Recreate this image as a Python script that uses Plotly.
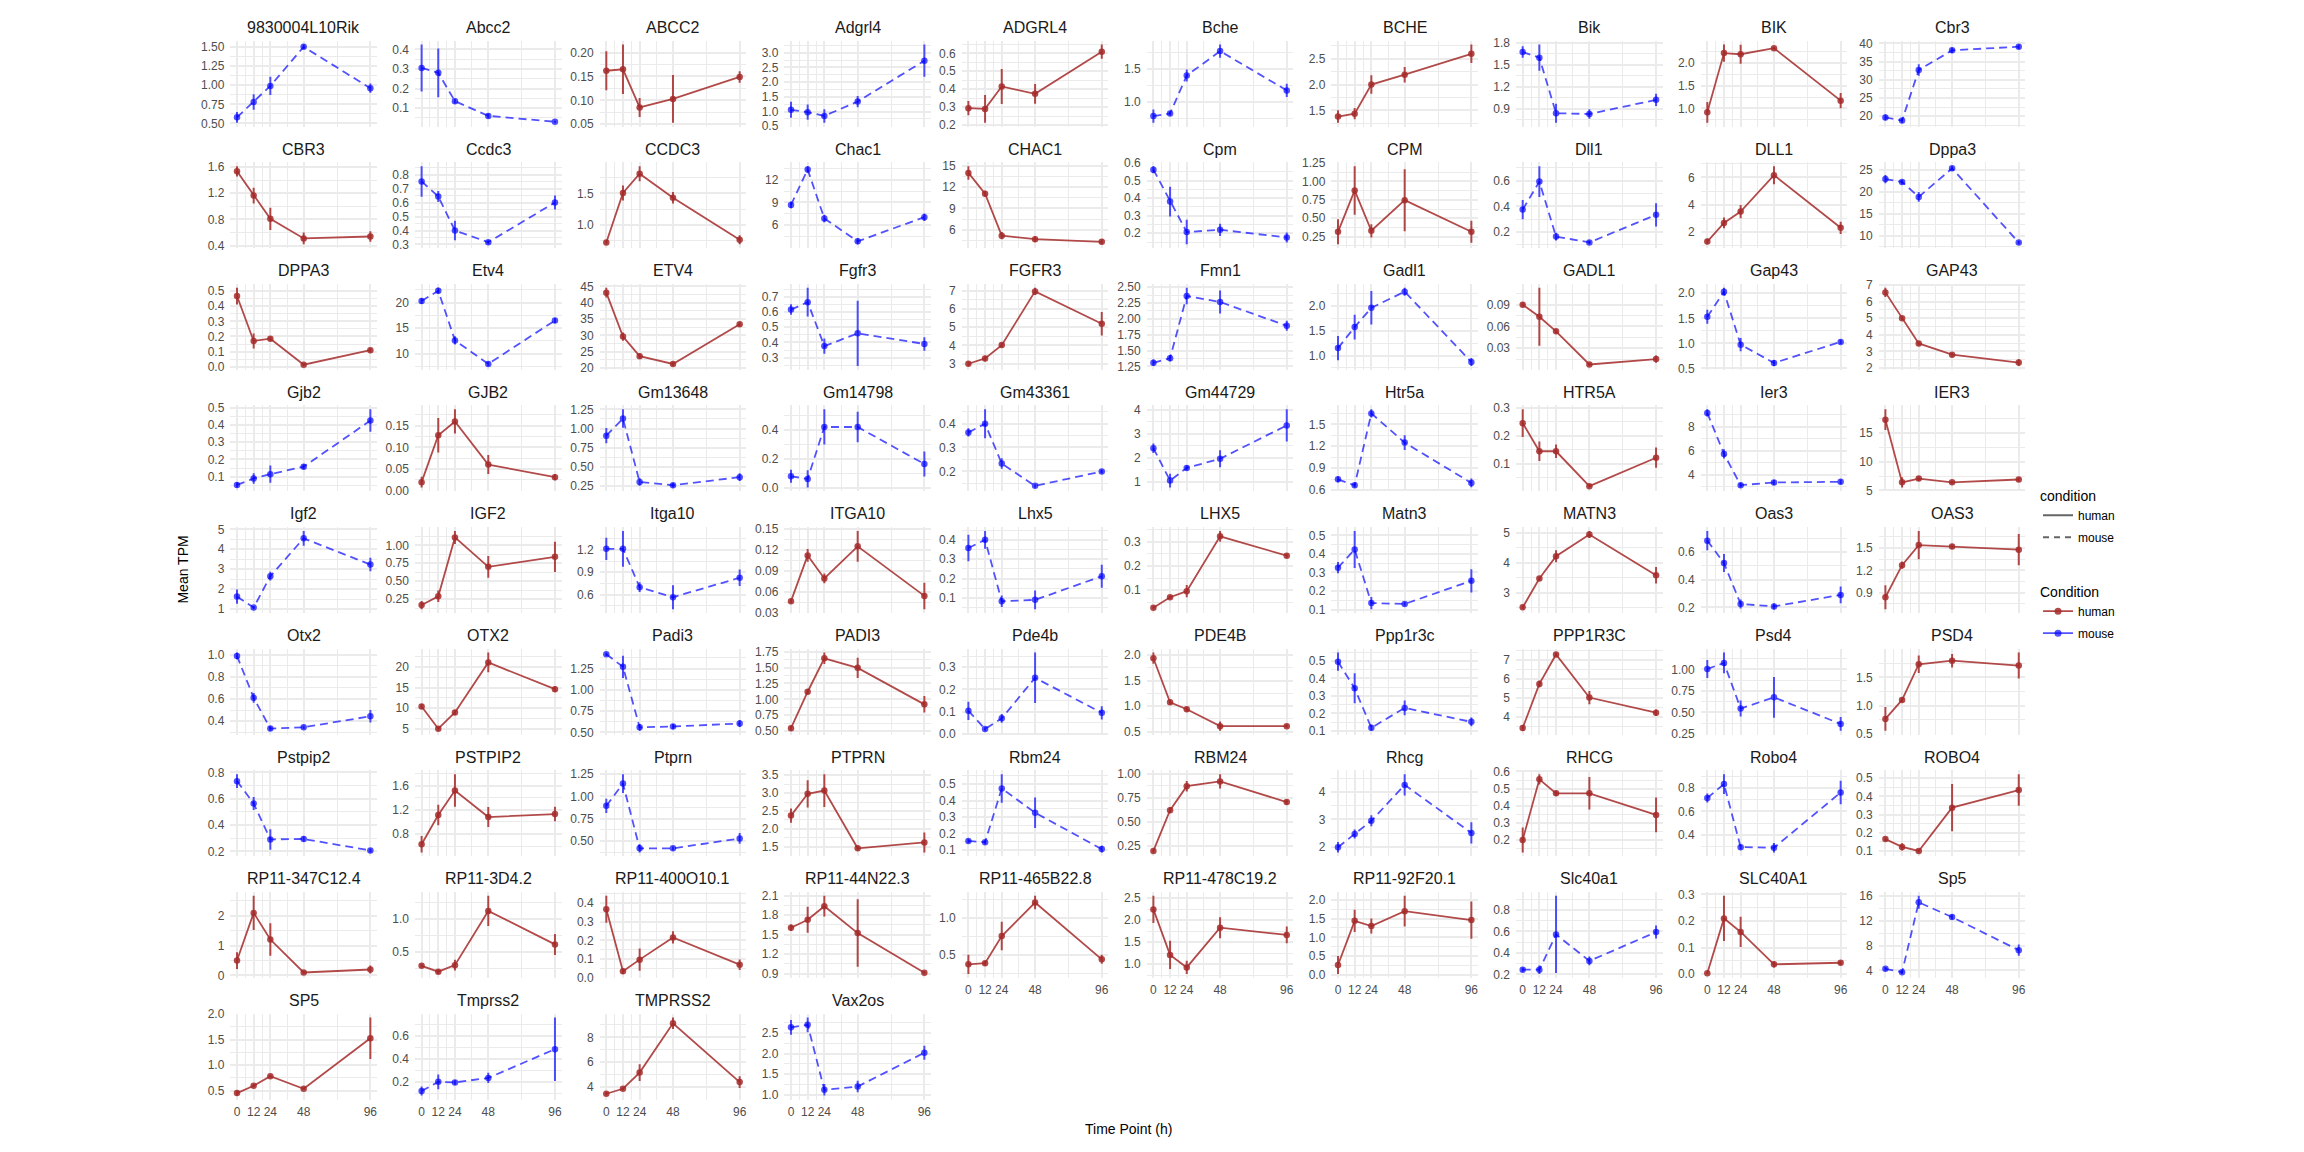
import plotly.graph_objects as go

TIMES = [0, 12, 24, 48, 96]
X_TICKS = [0, 12, 24, 48, 96]
X_MINOR = [6, 18, 36, 72]

GENES = ["9830004L10Rik", "Abcc2", "ABCC2", "Adgrl4", "ADGRL4", "Bche", "BCHE", "Bik", "BIK", "Cbr3",
         "CBR3", "Ccdc3", "CCDC3", "Chac1", "CHAC1", "Cpm", "CPM", "Dll1", "DLL1", "Dppa3",
         "DPPA3", "Etv4", "ETV4", "Fgfr3", "FGFR3", "Fmn1", "Gadl1", "GADL1", "Gap43", "GAP43",
         "Gjb2", "GJB2", "Gm13648", "Gm14798", "Gm43361", "Gm44729", "Htr5a", "HTR5A", "Ier3", "IER3",
         "Igf2", "IGF2", "Itga10", "ITGA10", "Lhx5", "LHX5", "Matn3", "MATN3", "Oas3", "OAS3",
         "Otx2", "OTX2", "Padi3", "PADI3", "Pde4b", "PDE4B", "Ppp1r3c", "PPP1R3C", "Psd4", "PSD4",
         "Pstpip2", "PSTPIP2", "Ptprn", "PTPRN", "Rbm24", "RBM24", "Rhcg", "RHCG", "Robo4", "ROBO4",
         "RP11-347C12.4", "RP11-3D4.2", "RP11-400O10.1", "RP11-44N22.3", "RP11-465B22.8",
         "RP11-478C19.2", "RP11-92F20.1", "Slc40a1", "SLC40A1", "Sp5",
         "SP5", "Tmprss2", "TMPRSS2", "Vax2os"]

SPECIES = ["mouse", "mouse", "human", "mouse", "human", "mouse", "human", "mouse", "human", "mouse",
           "human", "mouse", "human", "mouse", "human", "mouse", "human", "mouse", "human", "mouse",
           "human", "mouse", "human", "mouse", "human", "mouse", "mouse", "human", "mouse", "human",
           "mouse", "human", "mouse", "mouse", "mouse", "mouse", "mouse", "human", "mouse", "human",
           "mouse", "human", "mouse", "human", "mouse", "human", "mouse", "human", "mouse", "human",
           "mouse", "human", "mouse", "human", "mouse", "human", "mouse", "human", "mouse", "human",
           "mouse", "human", "mouse", "human", "mouse", "human", "mouse", "human", "mouse", "human",
           "human", "human", "human", "human", "human", "human", "human", "mouse", "human", "mouse",
           "human", "mouse", "human", "mouse"]

MEAN_TPM = [
    [0.58, 0.78, 0.99, 1.50, 0.96], [0.305, 0.28, 0.135, 0.06, 0.03], [0.162, 0.165, 0.085, 0.103, 0.149],
    [1.06, 0.98, 0.85, 1.34, 2.73], [0.294, 0.29, 0.415, 0.374, 0.609], [0.79, 0.83, 1.405, 1.775, 1.18],
    [1.38, 1.435, 2.0, 2.19, 2.595], [1.677, 1.60, 0.836, 0.826, 1.02], [0.913, 2.22, 2.195, 2.33, 1.17],
    [19.65, 18.8, 32.7, 38.1, 39.1],
    [1.535, 1.165, 0.81, 0.51, 0.54], [0.753, 0.645, 0.40, 0.316, 0.602], [0.723, 1.505, 1.81, 1.43, 0.766],
    [8.66, 13.4, 6.86, 3.8, 7.03], [13.97, 11.06, 5.19, 4.7, 4.33], [0.563, 0.381, 0.207, 0.22, 0.176],
    [0.316, 0.877, 0.33, 0.745, 0.316], [0.375, 0.592, 0.165, 0.12, 0.334], [1.30, 2.67, 3.5, 6.17, 2.31],
    [22.85, 22.2, 18.8, 25.3, 8.4],
    [0.467, 0.17, 0.185, 0.013, 0.109], [20.3, 22.3, 12.6, 8.0, 16.5], [43.1, 29.6, 23.6, 21.2, 33.4],
    [0.617, 0.666, 0.376, 0.46, 0.39], [3.0, 3.29, 4.02, 6.96, 5.19], [1.307, 1.38, 2.36, 2.265, 1.89],
    [1.15, 1.575, 1.965, 2.29, 0.87], [0.09, 0.0734, 0.0532, 0.0075, 0.015], [1.53, 2.03, 0.975, 0.61, 1.03],
    [6.56, 5.0, 3.48, 2.8, 2.32],
    [0.0525, 0.09, 0.115, 0.158, 0.425], [0.0194, 0.128, 0.16, 0.06, 0.031], [0.908, 1.13, 0.305, 0.263, 0.368],
    [0.079, 0.061, 0.42, 0.42, 0.164], [0.363, 0.399, 0.233, 0.14, 0.2], [2.39, 1.04, 1.57, 1.95, 3.34],
    [0.749, 0.667, 1.649, 1.25, 0.70], [0.245, 0.145, 0.145, 0.021, 0.122], [9.13, 5.72, 3.12, 3.34, 3.4],
    [17.3, 6.4, 7.06, 6.4, 6.9],
    [1.62, 1.07, 2.65, 4.55, 3.23], [0.168, 0.29, 1.11, 0.70, 0.84], [1.213, 1.213, 0.70, 0.565, 0.826],
    [0.0465, 0.112, 0.079, 0.125, 0.054], [0.358, 0.40, 0.083, 0.09, 0.212], [0.028, 0.071, 0.096, 0.322, 0.242],
    [0.326, 0.424, 0.135, 0.13, 0.255], [2.5, 3.47, 4.22, 4.95, 3.58], [0.682, 0.52, 0.224, 0.207, 0.29],
    [0.838, 1.27, 1.54, 1.52, 1.478],
    [0.99, 0.61, 0.332, 0.344, 0.443], [10.4, 5.0, 8.96, 21.1, 14.6], [1.417, 1.27, 0.56, 0.57, 0.605],
    [0.547, 1.12, 1.645, 1.495, 0.922], [0.103, 0.021, 0.069, 0.252, 0.094], [1.935, 1.077, 0.94, 0.61, 0.61],
    [0.496, 0.343, 0.117, 0.231, 0.151], [3.4, 5.72, 7.27, 5.0, 4.2], [1.004, 1.075, 0.545, 0.675, 0.366],
    [0.763, 1.10, 1.734, 1.797, 1.711],
    [0.734, 0.564, 0.291, 0.294, 0.207], [0.63, 1.113, 1.52, 1.08, 1.13], [0.894, 1.142, 0.42, 0.42, 0.53],
    [2.37, 2.98, 3.07, 1.455, 1.62], [0.154, 0.146, 0.474, 0.326, 0.104], [0.196, 0.62, 0.87, 0.92, 0.705],
    [1.99, 2.47, 2.95, 4.26, 2.51], [0.2, 0.554, 0.472, 0.472, 0.346], [0.715, 0.834, 0.293, 0.288, 0.762],
    [0.165, 0.122, 0.10, 0.338, 0.435],
    [0.5, 2.09, 1.2, 0.1, 0.2], [0.29, 0.2, 0.3, 1.125, 0.615], [0.367, 0.035, 0.097, 0.216, 0.07],
    [1.607, 1.73, 1.94, 1.525, 0.915], [0.375, 0.39, 0.755, 1.205, 0.442], [2.246, 1.21, 0.925, 1.83, 1.664],
    [0.26, 1.44, 1.3, 1.7, 1.46], [0.243, 0.243, 0.572, 0.325, 0.594], [0.0037, 0.21, 0.159, 0.037, 0.043],
    [4.26, 3.73, 14.95, 12.58, 7.26],
    [0.455, 0.597, 0.785, 0.538, 1.526], [0.12, 0.2, 0.195, 0.234, 0.485], [3.46, 3.86, 5.16, 9.13, 4.4],
    [2.64, 2.7, 1.12, 1.2, 2.02],
]

ERR_TPM = [
    [0.07, 0.10, 0.12, 0.03, 0.06], [0.12, 0.125, 0.012, 0.012, 0.005], [0.041, 0.052, 0.02, 0.05, 0.012],
    [0.27, 0.26, 0.23, 0.19, 0.55], [0.04, 0.077, 0.098, 0.055, 0.04], [0.1, 0.03, 0.09, 0.1, 0.1],
    [0.12, 0.11, 0.18, 0.15, 0.18], [0.08, 0.18, 0.13, 0.065, 0.085], [0.23, 0.19, 0.21, 0.03, 0.17],
    [0.8, 0.6, 1.6, 0.7, 0.6],
    [0.08, 0.12, 0.17, 0.09, 0.08], [0.11, 0.04, 0.07, 0.015, 0.05], [0.03, 0.12, 0.12, 0.09, 0.07],
    [0.45, 0.45, 0.5, 0.4, 0.5], [0.95, 0.4, 0.5, 0.4, 0.35], [0.02, 0.085, 0.07, 0.035, 0.028],
    [0.17, 0.33, 0.09, 0.42, 0.15], [0.075, 0.12, 0.03, 0.015, 0.09], [0.2, 0.4, 0.48, 0.66, 0.45],
    [0.95, 0.5, 1.1, 0.5, 0.4],
    [0.055, 0.05, 0.015, 0.008, 0.015], [0.6, 0.6, 0.8, 0.4, 0.5], [1.5, 1.3, 0.8, 0.6, 0.7],
    [0.035, 0.095, 0.05, 0.215, 0.045], [0.12, 0.15, 0.12, 0.2, 0.64], [0.05, 0.05, 0.13, 0.18, 0.08],
    [0.245, 0.25, 0.34, 0.08, 0.08], [0.003, 0.04, 0.003, 0.002, 0.005], [0.14, 0.08, 0.13, 0.06, 0.04],
    [0.28, 0.1, 0.12, 0.12, 0.2],
    [0.015, 0.03, 0.05, 0.015, 0.065], [0.0125, 0.04, 0.028, 0.022, 0.007], [0.1, 0.12, 0.05, 0.03, 0.05],
    [0.045, 0.06, 0.122, 0.105, 0.087], [0.017, 0.06, 0.022, 0.007, 0.008], [0.2, 0.29, 0.1, 0.35, 0.67],
    [0.04, 0.03, 0.055, 0.1, 0.06], [0.049, 0.035, 0.024, 0.005, 0.036], [0.3, 0.38, 0.2, 0.2, 0.2],
    [1.8, 0.9, 0.4, 0.3, 0.4],
    [0.36, 0.08, 0.22, 0.37, 0.34], [0.057, 0.08, 0.09, 0.15, 0.21], [0.15, 0.24, 0.065, 0.16, 0.11],
    [0.003, 0.009, 0.007, 0.022, 0.019], [0.068, 0.046, 0.03, 0.048, 0.06], [0.006, 0.007, 0.025, 0.022, 0.008],
    [0.03, 0.1, 0.033, 0.01, 0.063], [0.06, 0.06, 0.2, 0.12, 0.28], [0.07, 0.065, 0.033, 0.02, 0.06],
    [0.16, 0.05, 0.19, 0.03, 0.21],
    [0.03, 0.045, 0.02, 0.015, 0.057], [0.6, 0.5, 0.6, 2.4, 0.7], [0.02, 0.13, 0.04, 0.03, 0.04],
    [0.04, 0.04, 0.09, 0.16, 0.13], [0.041, 0.008, 0.02, 0.114, 0.03], [0.11, 0.05, 0.05, 0.09, 0.03],
    [0.052, 0.086, 0.017, 0.042, 0.025], [0.15, 0.18, 0.1, 0.35, 0.17], [0.105, 0.12, 0.093, 0.237, 0.08],
    [0.21, 0.04, 0.157, 0.12, 0.23],
    [0.053, 0.05, 0.078, 0.02, 0.015], [0.135, 0.17, 0.27, 0.165, 0.12], [0.08, 0.105, 0.045, 0.02, 0.06],
    [0.2, 0.38, 0.46, 0.06, 0.28], [0.012, 0.012, 0.087, 0.093, 0.02], [0.015, 0.03, 0.055, 0.075, 0.025],
    [0.19, 0.16, 0.2, 0.39, 0.39], [0.073, 0.03, 0.015, 0.095, 0.102], [0.038, 0.085, 0.02, 0.04, 0.1],
    [0.01, 0.02, 0.008, 0.13, 0.087],
    [0.28, 0.57, 0.54, 0.05, 0.13], [0.03, 0.035, 0.08, 0.23, 0.16], [0.072, 0.015, 0.06, 0.033, 0.028],
    [0.05, 0.2, 0.16, 0.52, 0.02], [0.13, 0.03, 0.19, 0.09, 0.06], [0.31, 0.32, 0.15, 0.24, 0.19],
    [0.24, 0.3, 0.2, 0.41, 0.5], [0.02, 0.04, 0.36, 0.04, 0.06], [0.003, 0.085, 0.057, 0.012, 0.008],
    [0.3, 0.3, 1.05, 0.4, 0.9],
    [0.05, 0.03, 0.03, 0.02, 0.405], [0.04, 0.065, 0.02, 0.045, 0.277], [0.15, 0.1, 0.68, 0.47, 0.47],
    [0.18, 0.18, 0.14, 0.14, 0.17],
]

Y_TICKS = [
    [0.5, 0.75, 1.0, 1.25, 1.5], [0.1, 0.2, 0.3, 0.4], [0.05, 0.10, 0.15, 0.20], [0.5, 1, 1.5, 2, 2.5, 3],
    [0.2, 0.3, 0.4, 0.5, 0.6], [1.0, 1.5], [1.5, 2.0, 2.5], [0.9, 1.2, 1.5, 1.8], [1.0, 1.5, 2.0],
    [20, 25, 30, 35, 40],
    [0.4, 0.8, 1.2, 1.6], [0.3, 0.4, 0.5, 0.6, 0.7, 0.8], [1.0, 1.5], [6, 9, 12], [6, 9, 12, 15],
    [0.2, 0.3, 0.4, 0.5, 0.6], [0.25, 0.5, 0.75, 1.0, 1.25], [0.2, 0.4, 0.6], [2, 4, 6], [10, 15, 20, 25],
    [0.0, 0.1, 0.2, 0.3, 0.4, 0.5], [10, 15, 20], [20, 25, 30, 35, 40, 45], [0.3, 0.4, 0.5, 0.6, 0.7],
    [3, 4, 5, 6, 7], [1.25, 1.5, 1.75, 2.0, 2.25, 2.5], [1.0, 1.5, 2.0], [0.03, 0.06, 0.09],
    [0.5, 1.0, 1.5, 2.0], [2, 3, 4, 5, 6, 7],
    [0.1, 0.2, 0.3, 0.4, 0.5], [0.0, 0.05, 0.10, 0.15], [0.25, 0.5, 0.75, 1.0, 1.25], [0.0, 0.2, 0.4],
    [0.2, 0.3, 0.4], [1, 2, 3, 4], [0.6, 0.9, 1.2, 1.5], [0.1, 0.2, 0.3], [4, 6, 8], [5, 10, 15],
    [1, 2, 3, 4, 5], [0.25, 0.5, 0.75, 1.0], [0.6, 0.9, 1.2], [0.03, 0.06, 0.09, 0.12, 0.15],
    [0.1, 0.2, 0.3, 0.4], [0.0, 0.1, 0.2, 0.3], [0.1, 0.2, 0.3, 0.4, 0.5], [3, 4, 5], [0.2, 0.4, 0.6],
    [0.9, 1.2, 1.5],
    [0.4, 0.6, 0.8, 1.0], [5, 10, 15, 20], [0.5, 0.75, 1.0, 1.25], [0.5, 0.75, 1.0, 1.25, 1.5, 1.75],
    [0.0, 0.1, 0.2, 0.3], [0.5, 1.0, 1.5, 2.0], [0.1, 0.2, 0.3, 0.4, 0.5], [3, 4, 5, 6, 7],
    [0.25, 0.5, 0.75, 1.0], [0.5, 1.0, 1.5],
    [0.2, 0.4, 0.6, 0.8], [0.8, 1.2, 1.6], [0.5, 0.75, 1.0, 1.25], [1.5, 2.0, 2.5, 3.0, 3.5],
    [0.1, 0.2, 0.3, 0.4, 0.5], [0.25, 0.5, 0.75, 1.0], [2, 3, 4], [0.2, 0.3, 0.4, 0.5, 0.6],
    [0.2, 0.4, 0.6, 0.8], [0.1, 0.2, 0.3, 0.4, 0.5],
    [0, 1, 2], [0.5, 1.0], [0.0, 0.1, 0.2, 0.3, 0.4], [0.9, 1.2, 1.5, 1.8, 2.1], [0.5, 1.0],
    [1.0, 1.5, 2.0, 2.5], [0.0, 0.5, 1.0, 1.5, 2.0], [0.2, 0.4, 0.6, 0.8], [0.0, 0.1, 0.2, 0.3],
    [4, 8, 12, 16],
    [0.5, 1.0, 1.5, 2.0], [0.2, 0.4, 0.6], [4, 6, 8], [1.0, 1.5, 2.0, 2.5],
]

# ---------------- styling / layout ----------------
W, H = 2304, 1152
COLORS = {"human": "rgba(165,42,42,0.85)", "mouse": "rgba(0,0,255,0.68)"}
DASH = {"human": "solid", "mouse": "8px,5px"}
GRID = "#EBEBEB"
FONT = "Liberation Sans, Arial, Helvetica, sans-serif"
COL_ZERO = [237, 421.6, 606.3, 791, 968.4, 1153.4, 1338, 1522.7, 1707.3, 1885.4]
PANEL_W = 146.7
PANEL_H = 87
ROW_TOP0 = 35
ROW_PITCH = 123
NCOL = 10


def ndec(v):
    for d in range(0, 5):
        if abs(round(v, d) - v) < 1e-9:
            return d
    return 4


def fmt_ticks(ticks):
    d = max(ndec(t) for t in ticks)
    return [f"{t:.{d}f}" for t in ticks]


fig = go.Figure()
layout = dict(
    width=W, height=H, margin=dict(l=0, r=0, t=0, b=0),
    paper_bgcolor="white", plot_bgcolor="white",
    font=dict(family=FONT, color="#000000"),
    annotations=[],
)

n = len(GENES)
for i, gene in enumerate(GENES):
    r, c = divmod(i, NCOL)
    k = i + 1
    sp = SPECIES[i]
    col = COLORS[sp]
    xs = "x" if k == 1 else f"x{k}"
    ys = "y" if k == 1 else f"y{k}"
    xa = "xaxis" if k == 1 else f"xaxis{k}"
    ya = "yaxis" if k == 1 else f"yaxis{k}"

    fig.add_trace(go.Scatter(
        x=TIMES, y=MEAN_TPM[i], xaxis=xs, yaxis=ys, mode="lines+markers",
        line=dict(color=col, width=1.8, dash=DASH[sp]),
        marker=dict(color=col, size=6.5),
        error_y=dict(type="data", array=ERR_TPM[i], visible=True, color=col, thickness=2, width=0),
        showlegend=False, hoverinfo="skip"))

    left = COL_ZERO[c] - PANEL_W * 0.05 / 1.1
    top = ROW_TOP0 + ROW_PITCH * r
    bottom = top + PANEL_H
    lo = min(m - e for m, e in zip(MEAN_TPM[i], ERR_TPM[i]))
    hi = max(m + e for m, e in zip(MEAN_TPM[i], ERR_TPM[i]))
    pad = (hi - lo) * 0.05
    yr = [lo - pad, hi + pad]
    ticks = Y_TICKS[i]
    step = ticks[1] - ticks[0]
    minor = [t + step / 2 for t in [ticks[0] - step] + ticks]
    minor = [m for m in minor if yr[0] <= m <= yr[1]]

    has_below = (i + NCOL) < n
    layout[xa] = dict(
        domain=[left / W, (left + PANEL_W) / W], anchor=ys, range=[-4.8, 100.8],
        tickvals=X_TICKS, ticktext=[str(t) for t in X_TICKS],
        showticklabels=not has_below, ticks="", ticklabelstandoff=3,
        tickfont=dict(family=FONT, size=12, color="#4D4D4D"),
        showgrid=True, gridcolor=GRID, gridwidth=1.7, zeroline=False, showline=False,
        minor=dict(tickvals=X_MINOR, showgrid=True, gridcolor=GRID, gridwidth=0.9, ticks=""),
        fixedrange=True)
    layout[ya] = dict(
        domain=[1 - bottom / H, 1 - top / H], anchor=xs, range=yr,
        tickvals=ticks, ticktext=fmt_ticks(ticks), ticks="", ticklabelstandoff=5,
        tickfont=dict(family=FONT, size=12, color="#4D4D4D"),
        showgrid=True, gridcolor=GRID, gridwidth=1.7, zeroline=False, showline=False,
        minor=dict(tickvals=minor, showgrid=True, gridcolor=GRID, gridwidth=0.9, ticks=""),
        fixedrange=True)
    layout["annotations"].append(dict(
        text=gene, x=(left + PANEL_W / 2) / W, y=1 - (top - 13.3) / H, xref="paper", yref="paper",
        xanchor="center", yanchor="middle", showarrow=False,
        font=dict(family=FONT, size=16, color="#1A1A1A")))

# axis titles
layout["annotations"].append(dict(
    text="Time Point (h)", x=1128 / W, y=1 - 1136 / H, xref="paper", yref="paper",
    xanchor="center", yanchor="middle", showarrow=False, font=dict(family=FONT, size=14, color="#000000")))
layout["annotations"].append(dict(
    text="Mean TPM", x=183 / W, y=1 - 570 / H, xref="paper", yref="paper", textangle=-90,
    xanchor="center", yanchor="middle", showarrow=False, font=dict(family=FONT, size=14, color="#000000")))

# legends
for sp in ["human", "mouse"]:
    fig.add_trace(go.Scatter(
        x=[None], y=[None], mode="lines", name=sp, legend="legend", legendgroup="lt" + sp,
        line=dict(color="#666666", width=1.8, dash="solid" if sp == "human" else "6px,5px")))
for sp in ["human", "mouse"]:
    fig.add_trace(go.Scatter(
        x=[None], y=[None], mode="lines+markers", name=sp, legend="legend2", legendgroup="c" + sp,
        line=dict(color=COLORS[sp], width=1.8), marker=dict(color=COLORS[sp], size=7)))

layout["legend"] = dict(
    x=2038 / W, y=1 - 482 / H, xanchor="left", yanchor="top", bgcolor="rgba(0,0,0,0)",
    title=dict(text="condition", font=dict(family=FONT, size=14, color="#000000")),
    font=dict(family=FONT, size=12, color="#000000"), tracegroupgap=3, itemwidth=30)
layout["legend2"] = dict(
    x=2038 / W, y=1 - 579 / H, xanchor="left", yanchor="top", bgcolor="rgba(0,0,0,0)",
    title=dict(text="Condition", font=dict(family=FONT, size=14, color="#000000")),
    font=dict(family=FONT, size=12, color="#000000"), tracegroupgap=3, itemwidth=30)

fig.update_layout(**layout)
fig.write_html("out.html")
